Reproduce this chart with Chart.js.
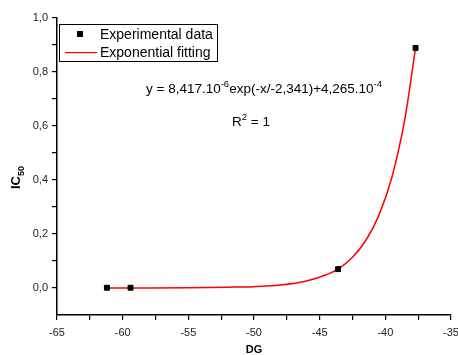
<!DOCTYPE html>
<html>
<head>
<meta charset="utf-8">
<script src="https://cdn.jsdelivr.net/npm/chart.js@4"></script>
<style>
  html, body { margin: 0; padding: 0; background: #fff; }
  #wrap { width: 458px; height: 355px; }
</style>
</head>
<body>
<div id="wrap"><canvas id="c" width="458" height="355"></canvas></div>
<script>
// measured points
var expX = [-61.2, -59.4, -43.6, -37.7];
var expY = [0.001, 0.001, 0.070, 0.889];

// fitted curve
var fitX = [-61.2, -58, -55, -52, -50, -48, -46, -44.5, -43.6, -42.5, -41.5, -40.5, -39.5, -38.5, -37.7];
var fitY = [0.000, 0.000, 0.001, 0.003, 0.005, 0.011, 0.026, 0.049, 0.070, 0.114, 0.175, 0.268, 0.41, 0.63, 0.889];

// major ticks get a label, the half steps are minor ticks
var xTicks = [-65, -62.5, -60, -57.5, -55, -52.5, -50, -47.5, -45, -42.5, -40, -37.5, -35];
var yTicks = [0.0, 0.1, 0.2, 0.3, 0.4, 0.5, 0.6, 0.7, 0.8, 0.9, 1.0];

var FONT = '"Liberation Sans", Arial, sans-serif';

function fmt(v, d) {
    return v.toFixed(d).replace('.', ',');
}

// draws a run of [text, size, rise] pieces left to right
function drawRuns(ctx, runs, x, y, bold) {
    runs.forEach(function(p) {
        ctx.font = (bold ? 'bold ' : '') + p[1] + 'px ' + FONT;
        ctx.fillText(p[0], x, y + p[2]);
        x += ctx.measureText(p[0]).width;
    });
}

var extras = {
    id: 'extras',
    afterDraw: function(chart) {
        var ctx = chart.ctx;
        ctx.save();
        ctx.fillStyle = '#000';
        ctx.textBaseline = 'alphabetic';

        // axis titles
        ctx.font = 'bold 11px ' + FONT;
        ctx.textAlign = 'center';
        ctx.fillText('DG', 254, 353);

        ctx.textAlign = 'left';
        ctx.save();
        ctx.translate(20, 189);
        ctx.rotate(-Math.PI / 2);
        drawRuns(ctx, [['IC', 13, 0], ['50', 9, 4]], 0, 0, true);
        ctx.restore();

        // legend
        ctx.lineWidth = 1;
        ctx.strokeStyle = '#000';
        ctx.strokeRect(59.5, 24.5, 158, 37);
        ctx.fillRect(77, 31, 6, 6);
        ctx.fillStyle = '#ff0000';
        ctx.fillRect(65, 52, 32, 1.2);
        ctx.fillStyle = '#000';
        ctx.font = '14px ' + FONT;
        ctx.fillText('Experimental data', 100, 39);
        ctx.fillText('Exponential fitting', 100, 57);

        // fit equation
        drawRuns(ctx, [
            ['y = 8,417.10', 13.5, 0],
            ['-6', 9.5, -6],
            ['exp(-x/-2,341)+4,265.10', 13.5, 0],
            ['-4', 9.5, -6]
        ], 146, 93, false);
        drawRuns(ctx, [['R', 13.5, 0], ['2', 9.5, -6], [' = 1', 13.5, 0]], 232, 126, false);
        ctx.restore();
    }
};

var axisFont = { family: FONT, size: 11 };

var chart = new Chart(document.getElementById('c').getContext('2d'), {
    type: 'scatter',
    data: {
        datasets: [{
            label: 'Exponential fitting',
            type: 'line',
            data: fitX.map(function(x, i) { return {x: x, y: fitY[i]}; }),
            borderColor: '#ff0000',
            borderWidth: 1.5,
            pointRadius: 0,
            cubicInterpolationMode: 'monotone',
            fill: false,
            order: 2
        }, {
            label: 'Experimental data',
            data: expX.map(function(x, i) { return {x: x, y: expY[i]}; }),
            backgroundColor: '#000',
            borderColor: '#000',
            pointStyle: 'rect',
            pointRadius: 3.5,
            order: 1
        }]
    },
    options: {
        responsive: false,
        animation: false,
        layout: { padding: { left: 0, right: 7, top: 18, bottom: 0 } },
        plugins: {
            legend: { display: false },
            tooltip: { enabled: false }
        },
        scales: {
            x: {
                type: 'linear',
                min: -65, max: -35,
                grid: { drawOnChartArea: false, drawTicks: true, tickLength: 5, color: '#000', lineWidth: 1.2 },
                border: { display: true, color: '#000', width: 1.5 },
                afterBuildTicks: function(s) { s.ticks = xTicks.map(function(v) { return {value: v}; }); },
                afterFit: function(s) { s.height = 40; s.paddingRight = 0; s.paddingLeft = 0; },
                ticks: {
                    color: '#222', font: axisFont,
                    padding: 6, maxRotation: 0, autoSkip: false,
                    callback: function(v) { return v % 5 === 0 ? String(v) : ''; }
                }
            },
            y: {
                min: -0.1, max: 1.0,
                grid: { drawOnChartArea: false, drawTicks: true, tickLength: 5, color: '#000', lineWidth: 1.2 },
                border: { display: true, color: '#000', width: 1.5 },
                afterBuildTicks: function(s) { s.ticks = yTicks.map(function(v) { return {value: v}; }); },
                afterFit: function(s) { s.width = 57; s.paddingTop = 0; s.paddingBottom = 0; },
                ticks: {
                    color: '#222', font: axisFont,
                    padding: 4, autoSkip: false,
                    callback: function(v, i) { return i % 2 === 0 ? fmt(v, 1) : ''; }
                }
            }
        }
    },
    plugins: [extras]
});
</script>
</body>
</html>
